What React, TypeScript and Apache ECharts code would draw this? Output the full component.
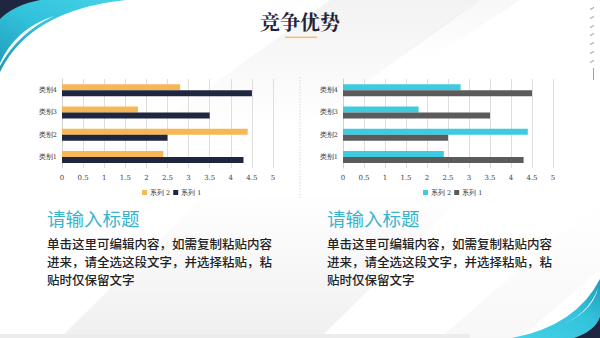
import React, { useEffect, useRef } from 'react';
import * as echarts from 'echarts';

const categories = ['类别1', '类别2', '类别3', '类别4'];
const series1Values = [4.3, 2.5, 3.5, 4.5];
const series2Values = [2.4, 4.4, 1.8, 2.8];
const seriesNames = ['系列 1', '系列 2'];
const pageTitle = '竞争优势';
const blockTitle = '请输入标题';
const bodyLines = [
  '单击这里可编辑内容，如需复制粘贴内容',
  '进来，请全选这段文字，并选择粘贴，粘',
  '贴时仅保留文字',
];

const leftColors = { s1: '#1f2740', s2: '#f8b756' };
const rightColors = { s1: '#5b5b5b', s2: '#3dcbe0' };

let registered = false;
function registerShapes() {
  if (registered) return;
  registered = true;
  const E: any = echarts;
  E.graphic.registerShape('decoTLCyan', E.graphic.extendPath('M0,0 L126,0 Q30,10 0,72 Z', {}));
  E.graphic.registerShape('decoTLNavy', E.graphic.extendPath('M0,0 L40,0 Q14,5 0,19 Z', {}));
  E.graphic.registerShape('decoTLWhite', E.graphic.extendPath('M54,16 Q16,28 0,63 L0,66 Q18,33 54,16 Z', {}));
  E.graphic.registerShape('decoBRCyan', E.graphic.extendPath('M512,338 Q576,326 600,279 L600,338 Z', {}));
  E.graphic.registerShape('decoBRNavy', E.graphic.extendPath('M574,338 Q595,331 600,317 L600,338 Z', {}));
  E.graphic.registerShape('decoBRWhite', E.graphic.extendPath('M556,327 Q588,316 598,288 Q592,314 556,327 Z', {}));
}

function makeBarSeries(name: string, data: number[], color: string, idx: number) {
  return {
    type: 'bar',
    name,
    data,
    xAxisIndex: idx,
    yAxisIndex: idx,
    barWidth: 6,
    barGap: '0%',
    itemStyle: { color },
  };
}

export default function App() {
  const ref = useRef<HTMLDivElement>(null);
  useEffect(() => {
    if (!ref.current) return;
    registerShapes();
    const chart = echarts.init(ref.current, undefined, { renderer: 'svg' });
    const serif = '"DejaVu Serif", "Liberation Serif", serif';
    const cjk = '"Noto Sans CJK SC", "Noto Sans", sans-serif';

    const xAxisBase = (idx: number) => ({
      type: 'value',
      gridIndex: idx,
      min: 0,
      max: 5,
      interval: 0.5,
      axisLine: { show: false },
      axisTick: { show: false },
      splitLine: { show: true, lineStyle: { color: '#dedede', width: 1 } },
      axisLabel: { fontSize: 7, color: '#444', fontFamily: serif, margin: 6 },
    });
    const yAxisBase = (idx: number) => ({
      type: 'category',
      gridIndex: idx,
      data: categories,
      axisLine: { show: true, lineStyle: { color: '#d0d0d0' } },
      axisTick: { show: false },
      axisLabel: { fontSize: 6.5, color: '#333', fontFamily: serif, margin: 5 },
    });

    // soft diagonal background band; fades vertically so no hard horizontal edge
    const band = (pts: number[][], a: number, fromBottom: boolean) => ({
      type: 'polygon',
      silent: true,
      z: -10,
      shape: { points: pts },
      style: {
        fill: new echarts.graphic.LinearGradient(0, fromBottom ? 1 : 0, 0, fromBottom ? 0 : 1, [
          { offset: 0, color: `rgba(0,0,0,${a})` },
          { offset: 1, color: 'rgba(0,0,0,0)' },
        ]),
      },
    });

    const bodyText = bodyLines.join('\n');

    chart.setOption({
      animation: false,
      backgroundColor: '#ffffff',
      grid: [
        { left: 62, right: 327, top: 79, bottom: 170 },
        { left: 343, right: 47, top: 79, bottom: 170 },
      ],
      xAxis: [xAxisBase(0), xAxisBase(1)],
      yAxis: [yAxisBase(0), yAxisBase(1)],
      legend: [
        {
          left: 137,
          top: 184,
          itemWidth: 5,
          itemHeight: 5,
          itemGap: 3,
          icon: 'rect',
          textStyle: { fontSize: 6.5, color: '#333', fontFamily: serif, padding: [0, 0, 0, -2] },
          data: [
            { name: seriesNames[1], itemStyle: { color: leftColors.s2 } },
            { name: seriesNames[0], itemStyle: { color: leftColors.s1 } },
          ],
        },
        {
          left: 418,
          top: 184,
          itemWidth: 5,
          itemHeight: 5,
          itemGap: 3,
          icon: 'rect',
          textStyle: { fontSize: 6.5, color: '#333', fontFamily: serif, padding: [0, 0, 0, -2] },
          data: [
            { name: seriesNames[1], itemStyle: { color: rightColors.s2 } },
            { name: seriesNames[0], itemStyle: { color: rightColors.s1 } },
          ],
        },
      ],
      series: [
        makeBarSeries(seriesNames[1], series2Values, leftColors.s2, 0),
        makeBarSeries(seriesNames[0], series1Values, leftColors.s1, 0),
        makeBarSeries(seriesNames[1], series2Values, rightColors.s2, 1),
        makeBarSeries(seriesNames[0], series1Values, rightColors.s1, 1),
      ],
      graphic: [
        band([[60, 338], [320, 338], [470, 190], [210, 190]], 0.06, true),
        band([[150, 130], [300, 130], [480, 0], [330, 0]], 0.05, false),
        band([[390, 60], [430, 60], [520, 0], [480, 0]], 0.03, false),
        band([[440, 338], [520, 338], [600, 270], [600, 200]], 0.03, true),
        { type: 'rect', silent: true, z: -9, shape: { x: 0, y: 334, width: 470, height: 4 }, style: { fill: '#ececec' } },
        {
          type: 'decoTLCyan', x: 0, y: 0, silent: true,
          style: {
            fill: new echarts.graphic.LinearGradient(0, 1, 1, 0, [
              { offset: 0, color: '#1d9bb8' },
              { offset: 0.5, color: '#33c2dc' },
              { offset: 1, color: '#45d3e8' },
            ]),
          },
        },
        { type: 'decoTLWhite', x: 0, y: 0, silent: true, style: { fill: '#ffffff' } },
        { type: 'decoTLNavy', x: 0, y: 0, silent: true, style: { fill: '#1e2640' } },
        {
          type: 'decoBRCyan', x: 0, y: 0, silent: true,
          style: {
            fill: new echarts.graphic.LinearGradient(0, 1, 1, 0, [
              { offset: 0, color: '#45d3e8' },
              { offset: 0.6, color: '#33c2dc' },
              { offset: 1, color: '#1d9bb8' },
            ]),
          },
        },
        { type: 'decoBRWhite', x: 0, y: 0, silent: true, style: { fill: '#ffffff' } },
        { type: 'decoBRNavy', x: 0, y: 0, silent: true, style: { fill: '#1e2640' } },
        // right-edge small marks
        ...[8, 17, 26, 34, 43, 52, 61].map((y) => ({
          type: 'line', silent: true,
          shape: { x1: 590, y1: y + 1.5, x2: 594, y2: y - 0.5 },
          style: { stroke: '#777', lineWidth: 0.8 },
        })),
        { type: 'line', silent: true, shape: { x1: 593.5, y1: 68, x2: 593.5, y2: 80 }, style: { stroke: '#888', lineWidth: 0.8 } },
        // title
        {
          type: 'text', x: 300, y: 21, silent: true,
          style: {
            text: pageTitle, fill: '#1f2438', fontSize: 20, fontWeight: 'bold',
            fontFamily: '"Noto Serif CJK SC", "Noto Sans CJK SC", serif',
            textAlign: 'center', textVerticalAlign: 'middle',
          },
        },
        { type: 'rect', silent: true, shape: { x: 285, y: 36.5, width: 32, height: 1.6 }, style: { fill: '#f0c276' } },
        // divider
        { type: 'line', silent: true, shape: { x1: 300, y1: 77, x2: 300, y2: 198 }, style: { stroke: '#cfcfcf', lineWidth: 0.8, lineDash: [1.5, 1.5] } },
        // block titles
        {
          type: 'text', x: 47, y: 218, silent: true,
          style: { text: blockTitle, fill: '#3ab3cd', fontSize: 18.5, fontFamily: cjk, textVerticalAlign: 'middle' },
        },
        {
          type: 'text', x: 327, y: 218, silent: true,
          style: { text: blockTitle, fill: '#3ab3cd', fontSize: 18.5, fontFamily: cjk, textVerticalAlign: 'middle' },
        },
        {
          type: 'text', x: 47, y: 234, silent: true,
          style: { text: bodyText, fill: '#222', fontSize: 12.5, lineHeight: 18, fontWeight: 500, fontFamily: cjk, textVerticalAlign: 'top' },
        },
        {
          type: 'text', x: 327, y: 234, silent: true,
          style: { text: bodyText, fill: '#222', fontSize: 12.5, lineHeight: 18, fontWeight: 500, fontFamily: cjk, textVerticalAlign: 'top' },
        },
      ],
    });
    return () => chart.dispose();
  }, []);
  return <div ref={ref} style={{ position: 'fixed', left: 0, top: 0, width: 600, height: 338 }} />;
}
